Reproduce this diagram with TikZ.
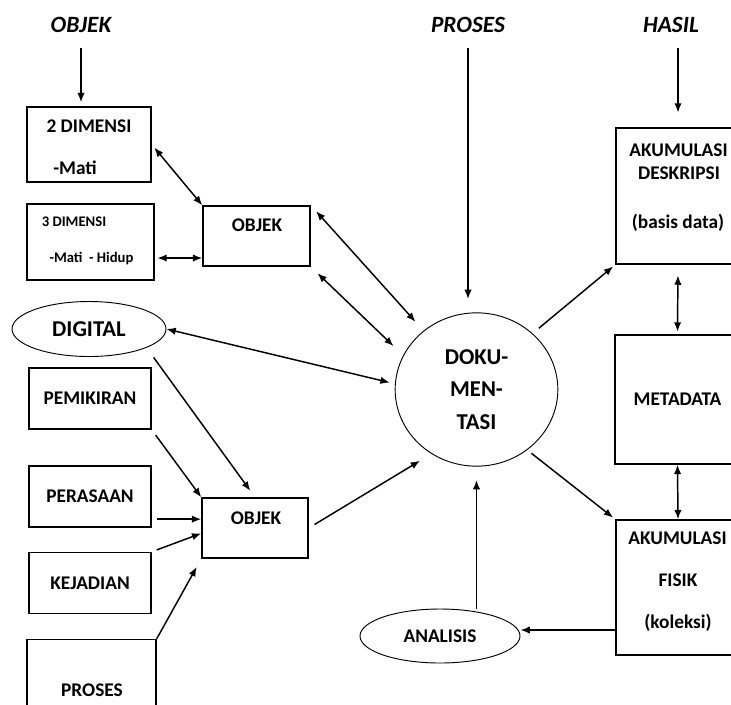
\documentclass[tikz,border=0pt]{standalone}
\usepackage{fontspec}
\setmainfont{Carlito}
\usetikzlibrary{arrows.meta,shapes.geometric}

\tikzset{
	boxed/.style={draw, inner sep=0pt},
	oval/.style={draw, ellipse, line width=0.7pt, inner sep=0pt},
	txt/.style={inner sep=0pt, font=\bfseries\fontsize{14.5}{17}\selectfont},
	smalltxt/.style={inner sep=0pt, font=\bfseries\fontsize{11}{13}\selectfont},
	heading/.style={inner sep=0pt, font=\bfseries\itshape\fontsize{17.5}{21}\selectfont},
}

\begin{document}
\begin{tikzpicture}[x=0.75pt, y=-0.75pt, line width=1.1pt, >={Latex[length=7pt,width=5.5pt]}]
		\path[use as bounding box, fill=white] (0,0) rectangle (731,704);

		% column headings
		\node[heading] (hObjek) at (81,25) {OBJEK};
		\node[heading] (hProses) at (468,25) {PROSES};
		\node[heading] (hHasil) at (671,25) {HASIL};

		% physical objects
		\node[boxed, minimum width=93pt, minimum height=56.25pt] (dim2) at (89,144.5) {};
		\node[txt] (dim2a) at (89,126) {2 DIMENSI};
		\node[txt] (dim2b) at (75,168) {-Mati};
		\node[boxed, minimum width=95.25pt, minimum height=57pt] (dim3) at (90.5,242) {};
		\node[smalltxt] (dim3a) at (74,222) {3 DIMENSI};
		\node[smalltxt] (dim3b) at (91.5,258) {-Mati~~- Hidup};
		\node[boxed, minimum width=80.25pt, minimum height=45pt] (objA) at (256.5,236) {};
		\node[txt] (objAt) at (257,225) {OBJEK};

		\node[oval, minimum width=115.5pt, minimum height=41.25pt,
			font=\bfseries\fontsize{17}{20}\selectfont] (digital) at (89,329) {DIGITAL};

		% non-physical objects
		\node[boxed, txt, minimum width=91.5pt, minimum height=45.75pt] (pem) at (90,398.5) {PEMIKIRAN};
		\node[boxed, txt, minimum width=91.5pt, minimum height=45.75pt] (per) at (90,496.5) {PERASAAN};
		\node[boxed, txt, minimum width=91.5pt, minimum height=45.75pt] (kej) at (90,583) {KEJADIAN};
		\node[boxed, minimum width=96.75pt, minimum height=60pt] (pros) at (91.5,679.5) {};
		\node[txt] (prosT) at (92,690) {PROSES};
		\node[boxed, minimum width=79.5pt, minimum height=45pt] (objB) at (255,528) {};
		\node[txt] (objBt) at (256,518) {OBJEK};

		% process
		\node[oval, minimum width=122pt, minimum height=115pt, align=center,
			font=\bfseries\fontsize{17}{24.5}\selectfont] (dok) at (476.5,389.5) {DOKU-\\MEN-\\TASI};
		\node[oval, txt, minimum width=120pt, minimum height=40.5pt] (ana) at (440,636) {ANALISIS};

		% results
		\node[boxed, minimum width=93pt, minimum height=102pt] (desk) at (678,196) {};
		\node[txt] (deskA) at (678.5,150) {AKUMULASI};
		\node[txt] (deskB) at (679,173) {DESKRIPSI};
		\node[txt] (deskC) at (678,223) {(basis data)};
		\node[boxed, txt, minimum width=93.75pt, minimum height=96.75pt] (meta) at (677.5,399.5) {METADATA};
		\node[boxed, minimum width=93pt, minimum height=101.25pt] (fisik) at (678,587.5) {};
		\node[txt] (fisikA) at (677.5,538) {AKUMULASI};
		\node[txt] (fisikB) at (678,580) {FISIK};
		\node[txt] (fisikC) at (678,623) {(koleksi)};

		% arrows
		\draw[->, shorten <=11pt, shorten >=3pt] (hObjek.south) -- (hObjek.south |- dim2.north);
		\draw[->, shorten <=11pt, shorten >=10pt] (hProses.south) -- (hProses.south |- dok.north);
		\draw[->, shorten <=11pt, shorten >=11pt] (desk.north |- hHasil.south) -- (desk.north);

		\draw[<->, shorten <=3pt] (dim2.east) -- (objA.north west);
		\draw[<->, shorten <=2pt] ([yshift=-12pt]dim3.east) -- ([yshift=-12pt]dim3.east -| objA.west);
		\draw[<->, shorten <=6pt, shorten >=9pt] (objA.north east) -- (dok.132);
		\draw[<->, shorten <=7pt, shorten >=10pt] (objA.south east) -- (dok.155);
		\draw[<->, shorten >=4pt] (digital.east) -- (dok.176);

		\draw[->, shorten <=9pt, shorten >=6pt] (digital.-18) -- (objB.north);
		\draw[->, shorten <=5pt] (pem.south east) -- (objB.north west);
		\draw[->, shorten <=4pt] ([yshift=-17pt]per.east) -- ([yshift=-17pt]per.east -| objB.west);
		\draw[->, shorten <=4pt] (kej.north east) -- ([yshift=-4pt]objB.west);
		\draw[->, shorten >=7pt] (pros.north east) -- (objB.south west);
		\draw[->, shorten <=5pt, shorten >=10pt] (objB.east) -- (dok.235);

		\draw[->, shorten <=6pt, shorten >=2pt] (dok.45) -- (desk.south west);
		\draw[->, shorten <=4pt, shorten >=2pt] (dok.-50) -- (fisik.north west);
		\draw[<->, shorten <=8pt, shorten >=2pt] (desk.south) -- (meta.north);
		\draw[<->] (meta.south) -- (fisik.north);
		\draw[->] ([yshift=4.5pt]ana.east -| fisik.west) -- ([yshift=4.5pt]ana.east);
		\draw[->, shorten >=10pt] (dok.south |- ana.north) -- (dok.south);
	\end{tikzpicture}
\end{document}
